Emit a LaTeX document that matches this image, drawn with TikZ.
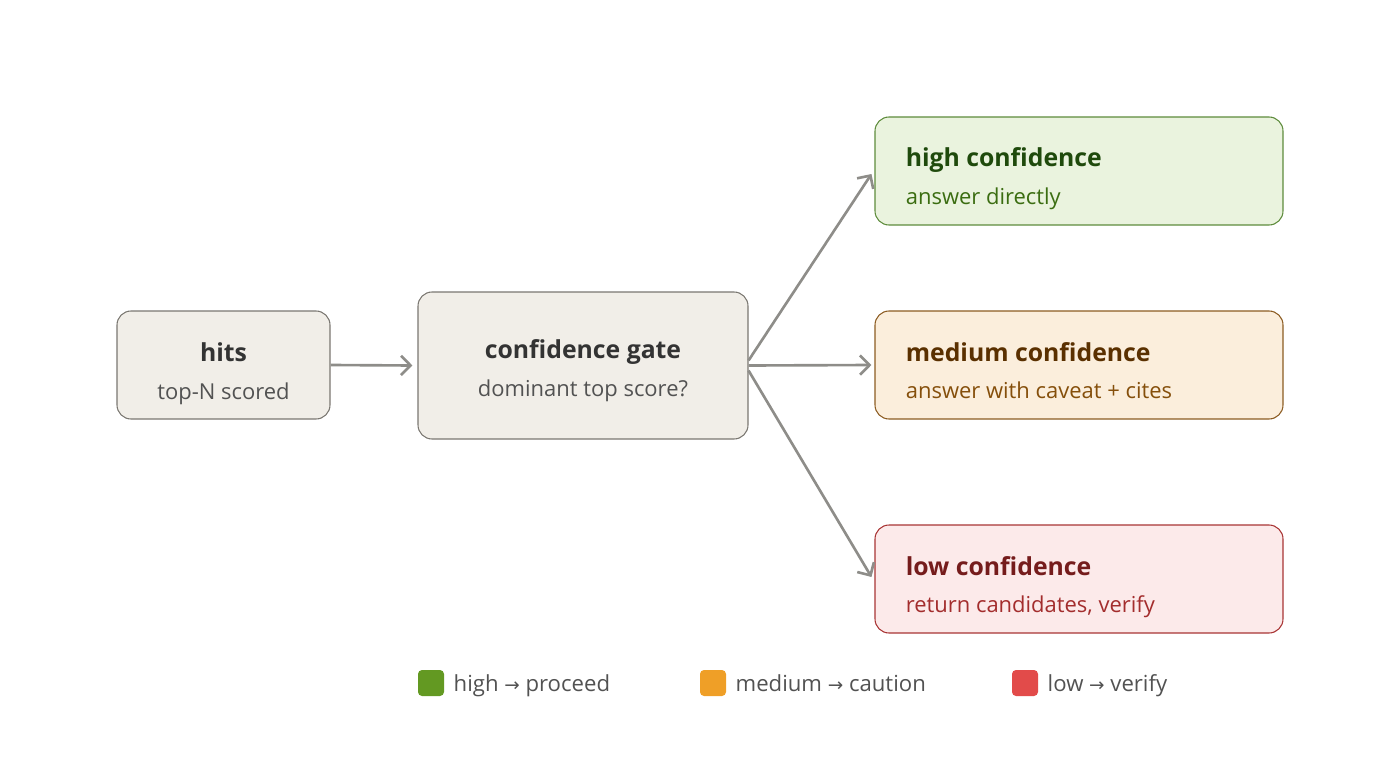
\documentclass[tikz,border=0pt]{standalone}
\usepackage{fontspec}
\setmainfont{Open Sans}
\newfontfamily\symfont{DejaVu Sans}
\usetikzlibrary{arrows.meta,positioning}

\definecolor{greyfill}{HTML}{F1EEE8}
\definecolor{greyline}{HTML}{7A7771}
\definecolor{arrowgrey}{HTML}{8E8D89}
\definecolor{hifill}{HTML}{EAF3DE}
\definecolor{hiline}{HTML}{5E8C3C}
\definecolor{hititle}{HTML}{1F4A0C}
\definecolor{hisub}{HTML}{3B6D11}
\definecolor{medfill}{HTML}{FBEEDC}
\definecolor{medline}{HTML}{8C5C22}
\definecolor{medtitle}{HTML}{5A3000}
\definecolor{medsub}{HTML}{854F0B}
\definecolor{lofill}{HTML}{FCEAEA}
\definecolor{loline}{HTML}{A83434}
\definecolor{lotitle}{HTML}{751C1C}
\definecolor{losub}{HTML}{A32D2D}
\definecolor{legreen}{HTML}{639922}
\definecolor{leorange}{HTML}{EF9F27}
\definecolor{lered}{HTML}{E24B4A}

\tikzset{
  box/.style={draw, rounded corners=0.28cm, line width=0.6pt, inner sep=0pt},
  boxtitle/.style={font=\fontsize{14.1}{16}\selectfont\bfseries, inner sep=0pt},
  boxsub/.style={font=\fontsize{12.5}{14}\selectfont, inner sep=0pt},
  flow/.style={draw=arrowgrey, line width=1.5pt, -{Straight Barb[length=5.5pt,width=11pt,line width=1.5pt]}},
  swatch/.style={rounded corners=0.08cm, minimum size=0.52cm, inner sep=0pt},
  legtext/.style={font=\fontsize{12.6}{14}\selectfont, text=black!68, inner sep=0pt, anchor=base west}
}
\newcommand{\legarrow}{{\symfont\fontsize{10.5}{12}\selectfont →}}

\begin{document}
\begin{tikzpicture}
  \useasboundingbox (0,0) rectangle (28,-15.56); % marco 1400x778

  % Entrada y compuerta
  \node[box, draw=greyline, fill=greyfill, minimum width=4.26cm, minimum height=2.16cm] (hits) at (4.47,-7.30) {};
  \node[boxtitle, text=black!80, anchor=base] (hitstitle) at ([yshift=0.07cm]hits.center) {hits};
  \node[boxsub, text=black!68, anchor=base] (hitssub) at ([yshift=-0.68cm]hits.center) {top-N scored};

  \node[box, draw=greyline, fill=greyfill, minimum width=6.6cm, minimum height=2.94cm] (gate) at (11.66,-7.31) {};
  \node[boxtitle, text=black!80, anchor=base] (gatetitle) at ([yshift=0.15cm]gate.center) {confidence gate};
  \node[boxsub, text=black!68, anchor=base] (gatesub) at ([yshift=-0.61cm]gate.center) {dominant top score?};

  % Salidas
  \node[box, draw=hiline, fill=hifill, minimum width=8.16cm, minimum height=2.16cm] (high) at (21.58,-3.42) {};
  \node[boxtitle, text=hititle, anchor=base west] (hightitle) at ([xshift=0.62cm,yshift=0.08cm]high.west) {high confidence};
  \node[boxsub, text=hisub, anchor=base west] (highsub) at ([xshift=0.62cm,yshift=-0.66cm]high.west) {answer directly};

  \node[box, draw=medline, fill=medfill, minimum width=8.16cm, minimum height=2.16cm] (medium) at (21.58,-7.30) {};
  \node[boxtitle, text=medtitle, anchor=base west] (mediumtitle) at ([xshift=0.62cm,yshift=0.08cm]medium.west) {medium confidence};
  \node[boxsub, text=medsub, anchor=base west] (mediumsub) at ([xshift=0.62cm,yshift=-0.66cm]medium.west) {answer with caveat + cites};

  \node[box, draw=loline, fill=lofill, minimum width=8.16cm, minimum height=2.16cm] (low) at (21.58,-11.58) {};
  \node[boxtitle, text=lotitle, anchor=base west] (lowtitle) at ([xshift=0.62cm,yshift=0.08cm]low.west) {low confidence};
  \node[boxsub, text=losub, anchor=base west] (lowsub) at ([xshift=0.62cm,yshift=-0.66cm]low.west) {return candidates, verify};

  % Flechas
  \draw[flow] (hits.east) -- ([xshift=-0.1cm]gate.west);
  \draw[flow] ([yshift=0.1cm]gate.east) -- ([xshift=-0.06cm,yshift=-0.06cm]high.west);
  \draw[flow] (gate.east) -- ([xshift=-0.06cm]medium.west);
  \draw[flow] ([yshift=-0.1cm]gate.east) -- ([xshift=-0.06cm,yshift=0.04cm]low.west);

  % Leyenda
  \node[swatch, fill=legreen] (sqhigh) at (8.62,-13.66) {};
  \node[legtext] (leghigh) at ([xshift=0.18cm,yshift=-0.16cm]sqhigh.east) {high \legarrow{} proceed};
  \node[swatch, fill=leorange] (sqmed) at (14.26,-13.66) {};
  \node[legtext] (legmed) at ([xshift=0.18cm,yshift=-0.16cm]sqmed.east) {medium \legarrow{} caution};
  \node[swatch, fill=lered] (sqlow) at (20.50,-13.66) {};
  \node[legtext] (leglow) at ([xshift=0.18cm,yshift=-0.16cm]sqlow.east) {low \legarrow{} verify};
\end{tikzpicture}
\end{document}
